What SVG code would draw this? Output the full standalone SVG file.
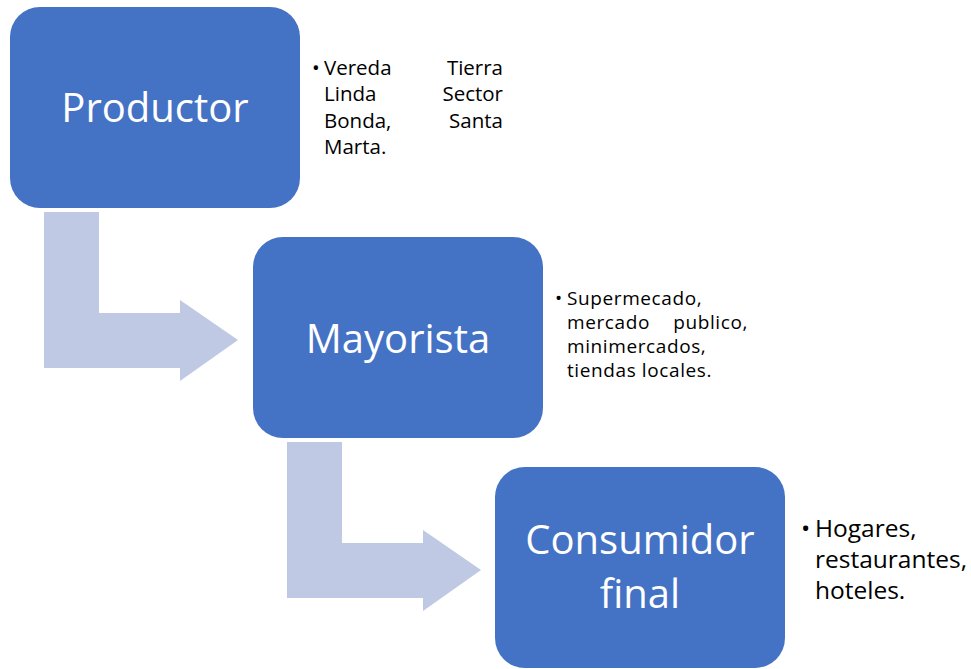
<svg xmlns="http://www.w3.org/2000/svg" width="971" height="669" viewBox="0 0 971 669">
<style>
.box{fill:#4472C4;}
.arr{fill:#BFC9E3;}
.lbl{font-family:"Open Sans","Liberation Sans",sans-serif;font-size:40px;fill:#FFFFFF;text-anchor:middle;}
.side{font-family:"Open Sans","Liberation Sans",sans-serif;font-size:20.5px;fill:#000000;}
.side2{font-family:"Open Sans","Liberation Sans",sans-serif;font-size:19px;letter-spacing:0.6px;fill:#000000;}
.side3{font-family:"Open Sans","Liberation Sans",sans-serif;font-size:24.5px;fill:#000000;}
.end{text-anchor:end;}
</style>
<rect width="971" height="669" fill="#FFFFFF"/>
<g id="connectors">
<path class="arr" d="M44,212 H99 V313 H180 V300 L238,340 L180,381 V368 H44 Z"/>
<path class="arr" d="M287,442 H342 V543 H423 V530 L481,570 L423,611 V598 H287 Z"/>
</g>
<g id="productor">
<rect class="box" x="10" y="7" width="290" height="201" rx="30" ry="30"/>
<text class="lbl" x="155" y="122">Productor</text>
</g>
<g id="productor-note">
<text class="side"><tspan x="312" y="75">•</tspan><tspan x="324" y="75">Vereda</tspan><tspan x="324" y="101">Linda</tspan><tspan x="324" y="128">Bonda,</tspan><tspan x="324" y="154">Marta.</tspan></text>
<text class="side end"><tspan x="503" y="75">Tierra</tspan><tspan x="503" y="101">Sector</tspan><tspan x="503" y="128">Santa</tspan></text>
</g>
<g id="mayorista">
<rect class="box" x="253" y="237" width="290" height="201" rx="30" ry="30"/>
<text class="lbl" x="398" y="353">Mayorista</text>
</g>
<g id="mayorista-note">
<text class="side2"><tspan x="555" y="305">•</tspan><tspan x="567" y="305">Supermecado,</tspan><tspan x="567" y="329">mercado</tspan><tspan x="567" y="353">minimercados,</tspan><tspan x="567" y="377">tiendas locales.</tspan></text>
<text class="side2 end" x="748" y="329">publico,</text>
</g>
<g id="consumidor">
<rect class="box" x="495" y="467" width="290" height="201" rx="30" ry="30"/>
<text class="lbl"><tspan x="640" y="554">Consumidor</tspan><tspan x="640" y="608">final</tspan></text>
</g>
<g id="consumidor-note">
<text class="side3"><tspan x="801" y="537">•</tspan><tspan x="815" y="537">Hogares,</tspan><tspan x="815" y="568">restaurantes,</tspan><tspan x="815" y="599">hoteles.</tspan></text>
</g>
</svg>
